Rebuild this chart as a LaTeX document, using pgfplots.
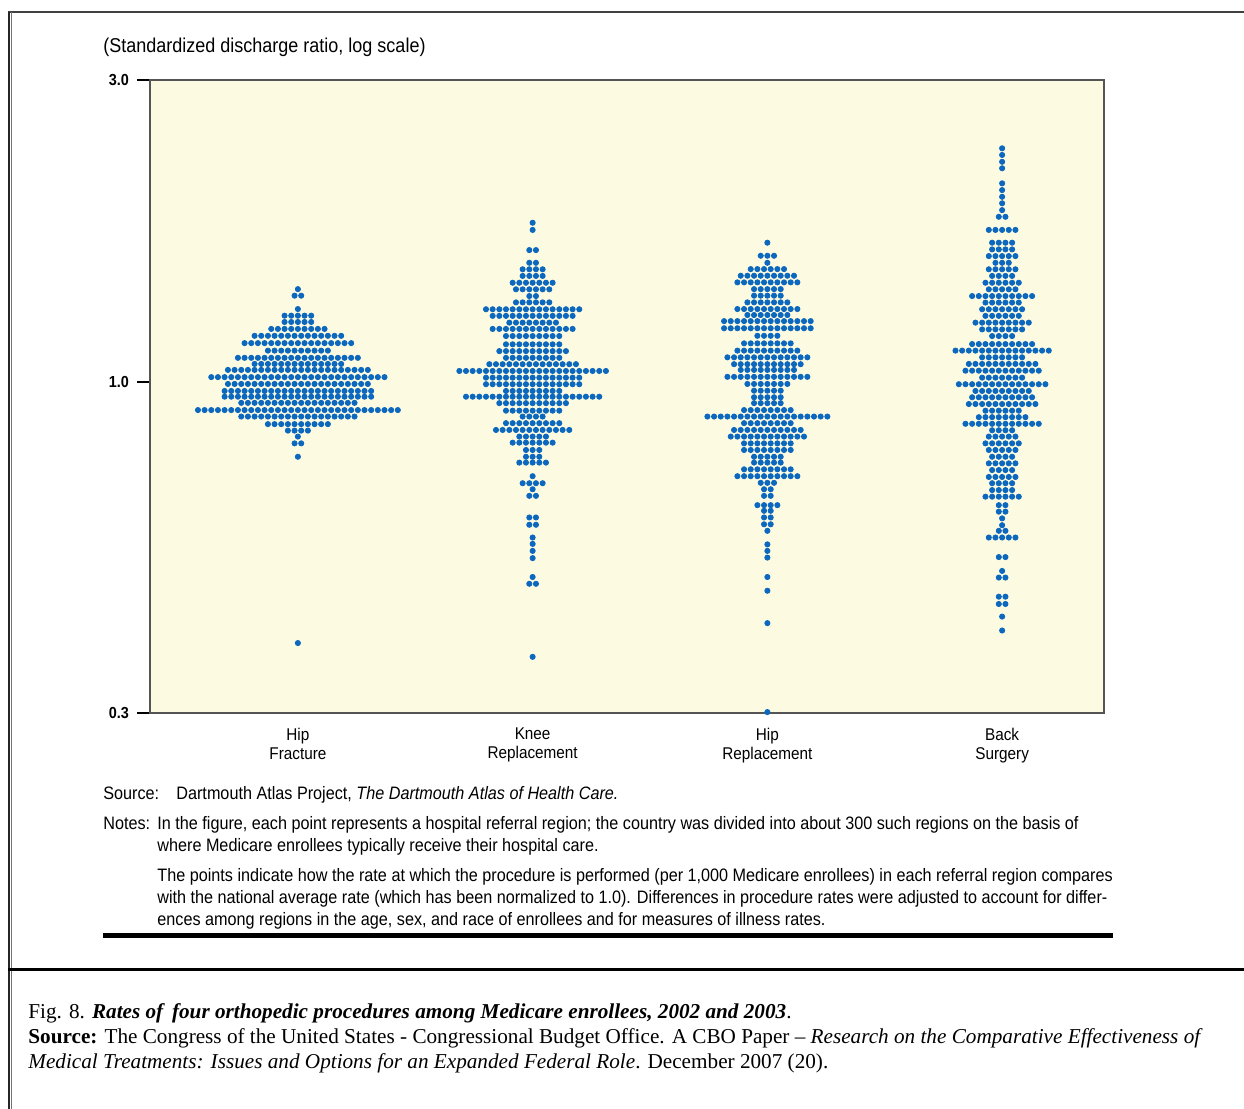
\documentclass[border=0pt]{standalone}
\usepackage{pgfplots}
\pgfplotsset{compat=1.18}
\usepackage{pgfplotstable}
\usepackage{fontspec}
\setmainfont{Liberation Serif}
\newfontfamily\cf[FakeStretch=0.9]{Liberation Sans}
\definecolor{bgy}{RGB}{252,250,224}
\definecolor{dotblue}{RGB}{12,104,190}
\definecolor{framec}{RGB}{85,85,85}

% rows of the dot plot: y = standardized discharge ratio, n = number of regions in that row
\pgfplotstableread{
y n
1.402 1
1.369 2
1.304 1
1.273 5
1.244 5
1.213 9
1.183 14
1.152 17
1.121 10
1.092 19
1.068 14
1.045 22
1.018 27
0.993 22
0.968 23
0.948 23
0.927 18
0.903 31
0.882 18
0.858 10
0.838 4
0.820 1
0.800 2
0.762 1
0.387 1
}\hipfrac

\pgfplotstableread{
y n
1.785 1
1.739 1
1.616 2
1.543 2
1.507 4
1.471 4
1.435 7
1.401 6
1.367 2
1.336 6
1.303 15
1.272 13
1.241 8
1.213 13
1.182 9
1.147 9
1.119 11
1.092 9
1.067 14
1.041 23
1.016 15
0.992 15
0.968 9
0.948 21
0.926 11
0.901 9
0.882 4
0.861 9
0.840 12
0.820 5
0.802 7
0.781 3
0.762 3
0.746 5
0.710 1
0.692 4
0.677 1
0.661 2
0.611 2
0.595 2
0.568 1
0.555 1
0.541 1
0.527 1
0.492 1
0.480 2
0.368 1
}\knee

\pgfplotstableread{
y n
1.660 1
1.583 3
1.543 1
1.508 6
1.472 9
1.437 10
1.402 5
1.369 5
1.336 7
1.304 10
1.276 7
1.248 14
1.216 14
1.183 4
1.151 8
1.121 10
1.094 13
1.067 11
1.045 9
1.019 13
0.993 7
0.969 5
0.946 5
0.926 5
0.903 8
0.882 19
0.861 8
0.840 11
0.820 12
0.800 8
0.781 8
0.762 5
0.746 5
0.728 8
0.710 10
0.693 3
0.677 2
0.661 2
0.639 4
0.626 2
0.611 2
0.596 2
0.582 1
0.554 1
0.541 1
0.528 1
0.492 1
0.468 1
0.416 1
0.301 1
}\hiprep

\pgfplotstableread{
y n
2.340 1
2.284 1
2.228 1
2.176 1
2.060 1
2.010 1
1.962 1
1.916 1
1.869 1
1.824 2
1.739 5
1.660 4
1.620 4
1.581 5
1.543 3
1.507 5
1.471 4
1.435 6
1.401 5
1.367 10
1.335 6
1.303 7
1.272 6
1.241 9
1.211 7
1.182 4
1.148 10
1.121 15
1.094 7
1.068 11
1.042 12
1.016 7
0.992 14
0.968 9
0.946 10
0.923 11
0.901 6
0.880 8
0.859 12
0.839 4
0.820 5
0.800 6
0.781 5
0.762 4
0.744 5
0.726 4
0.708 5
0.692 4
0.675 4
0.659 6
0.639 2
0.624 2
0.609 1
0.594 1
0.582 2
0.568 5
0.529 2
0.503 1
0.491 2
0.458 2
0.446 2
0.426 1
0.405 1
}\back

% lay the regions of each row side by side around the category position
\newcommand\buildswarm[3]{%
  \gdef\swarmcoords{}%
  \pgfplotstablegetrowsof{#1}%
  \pgfmathtruncatemacro\lastrow{\pgfplotsretval-1}%
  \foreach \i in {0,...,\lastrow}{%
    \pgfplotstablegetelem{\i}{y}\of{#1}\let\yy\pgfplotsretval
    \pgfplotstablegetelem{\i}{n}\of{#1}\let\nn\pgfplotsretval
    \pgfmathtruncatemacro\nlast{\nn-1}%
    \foreach \k in {0,...,\nlast}{%
      \pgfmathsetmacro\xx{#2+(\k-\nlast/2)*0.02838}%
      \xdef\swarmcoords{\swarmcoords (\xx,\yy)}%
    }%
  }%
  \global\let#3\swarmcoords
}

\begin{document}
\begin{tikzpicture}
\buildswarm{\hipfrac}{1}{\coordsA}
\buildswarm{\knee}{2}{\coordsB}
\buildswarm{\hiprep}{3}{\coordsC}
\buildswarm{\back}{4}{\coordsD}
\path[use as bounding box] (0,0) rectangle (622pt,554.5pt);
\begin{axis}[
  at={(75pt,198pt)}, anchor=south west,
  scale only axis, width=477pt, height=316.5pt,
  xmin=0.37, xmax=4.434, ymin=0.3, ymax=3, ymode=log,
  axis background/.style={fill=bgy},
  axis line style={draw=framec, line width=1.1pt},
  ytick={0.3,1,3}, yticklabels={0.3,1.0,3.0},
  ytick pos=left, tick align=outside, major tick length=6.5pt,
  major tick style={black, line width=0.6pt},
  minor tick length=0pt,
  yticklabel style={font=\cf\bfseries\fontsize{8}{9}\selectfont, xshift=-0.5pt},
  xtick={1,2,3,4},
  xticklabels={Hip\\Fracture, Knee\\Replacement, Hip\\Replacement, Back\\Surgery},
  major x tick style={draw=none},
  xticklabel style={align=center, font=\cf\fontsize{8.5}{9.5}\selectfont, yshift=2.5pt},
  clip=false,
]
\edef\temp{\noexpand\addplot[only marks, mark=*, mark size=1.3pt, color=dotblue] coordinates {\coordsA};}\temp
\edef\temp{\noexpand\addplot[only marks, mark=*, mark size=1.3pt, color=dotblue] coordinates {\coordsB};}\temp
\edef\temp{\noexpand\addplot[only marks, mark=*, mark size=1.3pt, color=dotblue] coordinates {\coordsC};}\temp
\edef\temp{\noexpand\addplot[only marks, mark=*, mark size=1.3pt, color=dotblue] coordinates {\coordsD};}\temp
\end{axis}
\begin{scope}[x=0.5pt,y=0.5pt]
% page frame
\draw[line width=1pt, black!75] (8,{1109-12}) -- (1244,{1109-12});
\draw[line width=0.8pt, black!85] (8.7,{1109-12}) -- (8.7,0);
\draw[line width=0.5pt, black!55] (11.8,{1109-12}) -- (11.8,0);
\draw[line width=1.2pt, black] (8,{1109-969.5}) -- (1244,{1109-969.5});
% titles and notes
\node[anchor=base west, inner sep=0, font=\cf\fontsize{10}{12}\selectfont] at (103,{1109-53}) {(Standardized discharge ratio, log scale)};
\begin{scope}[every node/.style={anchor=base west, inner sep=0, font=\cf\fontsize{9}{10.5}\selectfont}]
\node at (103,{1109-800}) {Source:};
\node at (176,{1109-800}) {Dartmouth Atlas Project, \textit{The Dartmouth Atlas of Health Care.}};
\node at (103,{1109-830}) {Notes:};
\node at (157,{1109-830}) {In the figure, each point represents a hospital referral region; the country was divided into about 300 such regions on the basis of};
\node at (157,{1109-852}) {where Medicare enrollees typically receive their hospital care.};
\node at (157,{1109-882}) {The points indicate how the rate at which the procedure is performed (per 1,000 Medicare enrollees) in each referral region compares};
\node at (157,{1109-904}) {with the national average rate (which has been normalized to 1.0). Differences in procedure rates were adjusted to account for differ-};
\node at (157,{1109-926}) {ences among regions in the age, sex, and race of enrollees and for measures of illness rates.};
\end{scope}
\draw[line width=2.5pt, black] (103,{1109-935.5}) -- (1113,{1109-935.5});
% caption
\begin{scope}[every node/.style={anchor=base west, inner sep=0, font=\fontsize{10.6}{12.5}\selectfont}]
\node at (28,{1109-1019}) {Fig. 8. \textbf{\textit{Rates of\, four orthopedic procedures among Medicare enrollees, 2002 and 2003}}.};
\node at (28,{1109-1044}) {\textbf{Source:} The Congress of the United States - Congressional Budget Office. A CBO Paper -- \textit{Research on the Comparative Effectiveness of}};
\node at (28,{1109-1069}) {\textit{Medical Treatments: Issues and Options for an Expanded Federal Role}. December 2007 (20).};
\end{scope}
\end{scope}
\end{tikzpicture}
\end{document}
